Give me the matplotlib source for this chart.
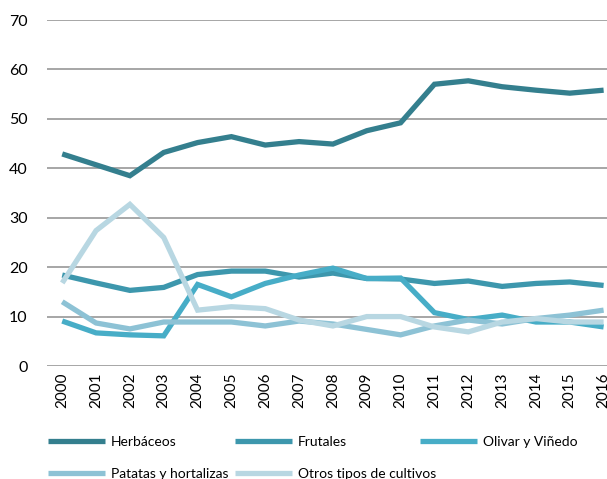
import matplotlib
matplotlib.use("Agg")
import matplotlib.pyplot as plt

years = [str(y) for y in range(2000, 2017)]
herbaceos = [42.9, 40.7, 38.5, 43.2, 45.2, 46.4, 44.7, 45.4, 44.9, 47.6, 49.2, 57.0, 57.7, 56.5, 55.8, 55.2, 55.8]
frutales = [18.4, 16.8, 15.3, 15.9, 18.5, 19.2, 19.2, 18.0, 18.8, 17.7, 17.6, 16.7, 17.2, 16.1, 16.7, 17.0, 16.3]
olivar = [9.1, 6.7, 6.3, 6.1, 16.5, 14.0, 16.7, 18.4, 19.8, 17.7, 17.8, 10.8, 9.4, 10.3, 8.9, 8.9, 7.9]
patatas = [13.0, 8.7, 7.5, 8.9, 8.9, 8.9, 8.1, 9.1, 8.5, 7.4, 6.3, 8.1, 9.3, 8.5, 9.6, 10.3, 11.3]
otros = [16.8, 27.4, 32.7, 26.0, 11.3, 12.0, 11.6, 9.3, 8.1, 10.0, 10.0, 7.9, 6.9, 8.9, 9.6, 8.9, 8.9]

labels = ["Herbáceos", "Frutales", "Olivar y Viñedo", "Patatas y hortalizas", "Otros tipos de cultivos"]
series = [herbaceos, frutales, olivar, patatas, otros]
colors = ["#347F8E", "#3D97AD", "#47ADC7", "#8DC2D5", "#B8D7E2"]
yticks = [0, 10, 20, 30, 40, 50, 60, 70]

plt.rcParams['font.family'] = ['Lato', 'DejaVu Sans']

fig = plt.figure(figsize=(6.07, 4.79), dpi=100)
W, H = 607, 479
ax = fig.add_axes([47 / W, (H - 366) / H, (W - 47) / W, (366 - 20) / H])

x = list(range(len(years)))
lines = []
for s, c, l in zip(series, colors, labels):
    ln, = ax.plot(x, s, color=c, lw=3.8, label=l, solid_capstyle='butt', solid_joinstyle='miter', zorder=3)
    lines.append(ln)

ax.set_xlim(-0.45, 16.1)
ax.set_ylim(0, 70)
ax.set_yticks(yticks)
ax.set_xticks(x)
ax.set_xticklabels(years, rotation=90, fontsize=11, color="#000000")
ax.tick_params(axis='y', labelsize=11.5, length=0, pad=14)
ax.tick_params(axis='x', length=0, pad=5)
for sp in ax.spines.values():
    sp.set_visible(False)
ax.grid(axis='y', color="#A6A6A6", lw=1.4, zorder=0)
ax.set_axisbelow(True)

cols = [[0, 3], [1, 4], [2]]
xs = [44, 231, 416]
for col, xp in zip(cols, xs):
    fig.legend([lines[i] for i in col], [labels[i] for i in col],
               loc='upper left', bbox_to_anchor=(xp / W, (H - 432) / H),
               frameon=False, fontsize=10, handlelength=4.1, handletextpad=0.4,
               labelspacing=1.4, borderaxespad=0, borderpad=0.3)

fig.savefig("out.png", dpi=100)
